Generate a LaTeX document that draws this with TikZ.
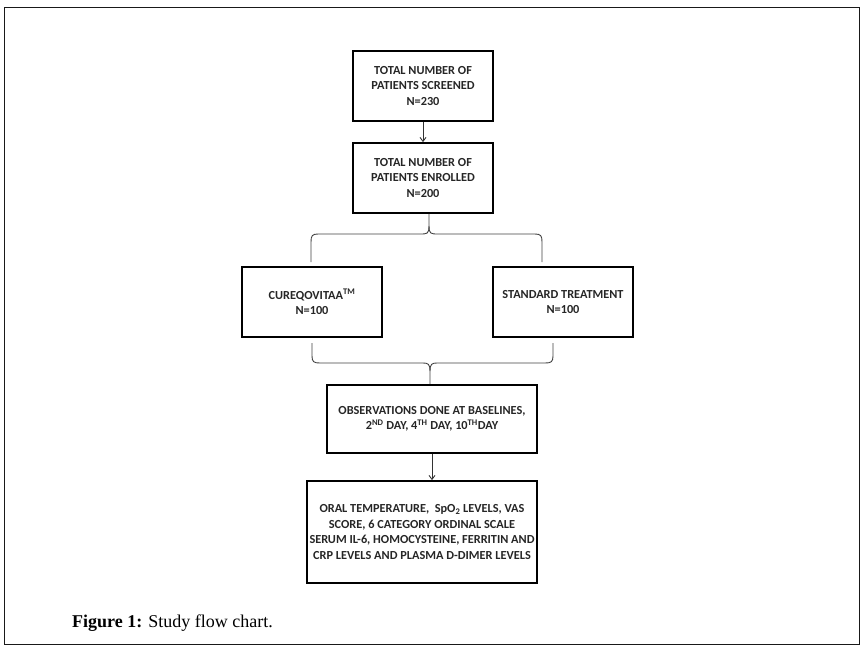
\documentclass[tikz,border=0pt]{standalone}
\usepackage{fontspec}
\setmainfont{Carlito}
\newfontfamily\capfont{Liberation Serif}
\usetikzlibrary{arrows.meta}
\begin{document}
\begin{tikzpicture}[x=1pt,y=-1pt,
  box/.style={draw=black, line width=1.8pt, align=center, inner sep=0pt,
    font=\bfseries\fontsize{12.3}{15.5}\selectfont, text=black!85},
  bracel/.style={draw=black!75, line width=0.9pt},
  arr/.style={draw=black!80, line width=0.9pt, -{Straight Barb[length=4pt,width=6pt]}}]
\useasboundingbox (0,0) rectangle (866,650);
\draw[black!90, line width=1pt] (4,7.5) rectangle (859,644);
\node[box, minimum width=140pt, minimum height=70pt] (b1) at (423,86)
  {TOTAL NUMBER OF\\PATIENTS SCREENED\\N=230};
\node[box, minimum width=140pt, minimum height=70pt] (b2) at (423,178)
  {TOTAL NUMBER OF\\PATIENTS ENROLLED\\N=200};
\node[box, minimum width=140pt, minimum height=70pt] (b3) at (312,302)
  {CUREQOVITAA\textsuperscript{TM}\\N=100};
\node[box, minimum width=140pt, minimum height=70pt] (b4) at (563,302)
  {STANDARD TREATMENT\\N=100};
\node[box, minimum width=210pt, minimum height=68pt] (b5) at (432,419)
  {OBSERVATIONS DONE AT BASELINES,\\2\textsuperscript{ND} DAY, 4\textsuperscript{TH} DAY, 10\textsuperscript{TH}DAY};
\node[box, minimum width=230pt, minimum height=102pt, font=\bfseries\fontsize{12.3}{15.8}\selectfont] (b6) at (422,532)
  {ORAL TEMPERATURE,~ SpO\textsubscript{2} LEVELS, VAS\\SCORE, 6 CATEGORY ORDINAL SCALE\\SERUM IL-6, HOMOCYSTEINE, FERRITIN AND\\CRP LEVELS AND PLASMA D-DIMER LEVELS};
\coordinate (s1) at (429,226);
\coordinate (l1) at (311,262);
\coordinate (r1) at (542,262);
\coordinate (l2) at (312,343);
\coordinate (r2) at (553,343);
\coordinate (s2) at (430,371);
\draw[arr] (b1.south) -- (b2.north);
\draw[arr] (b5.south) -- (b5.south |- b6.north);
\draw[bracel] (b2.south -| s1) -- (s1) .. controls (429,234) and (427,234) .. (420,234) -- (318,234) .. controls (312,234) and (311,236) .. (311,242) -- (l1);
\draw[bracel] (s1) .. controls (429,234) and (431,234) .. (438,234) -- (535,234) .. controls (541,234) and (542,236) .. (542,242) -- (r1);
\draw[bracel] (l2) -- (312,356) .. controls (312,362) and (314,363) .. (320,363) -- (423,363) .. controls (428,363) and (430,364) .. (s2) -- (b5.north -| s2);
\draw[bracel] (r2) -- (553,356) .. controls (553,362) and (551,363) .. (545,363) -- (437,363) .. controls (432,363) and (430,364) .. (s2);
\node[anchor=base west, inner sep=0pt, font=\capfont\fontsize{18}{20}\selectfont] (cap) at (72,627)
  {\textbf{Figure 1:} Study flow chart.};
\end{tikzpicture}
\end{document}
